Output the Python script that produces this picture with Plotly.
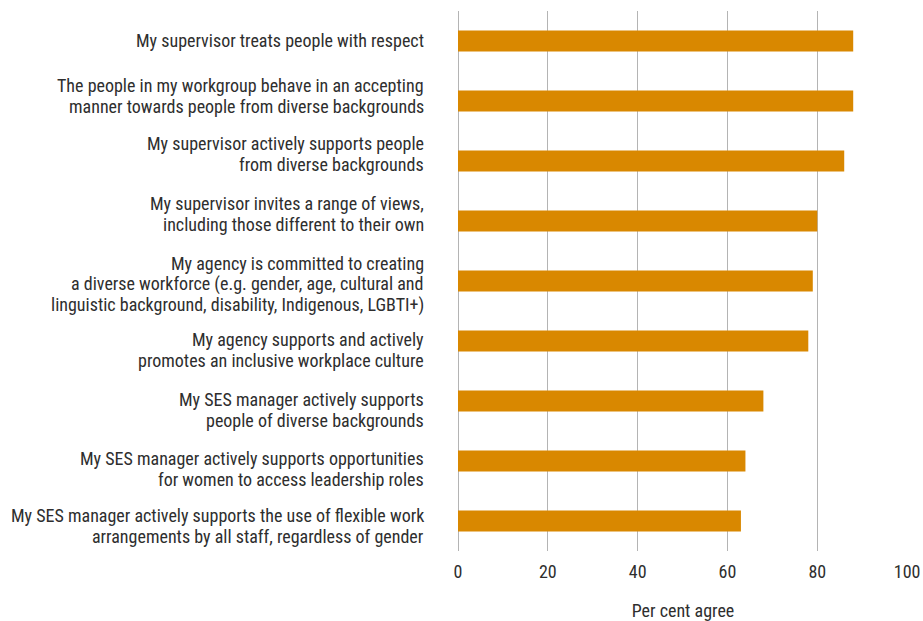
import plotly.graph_objects as go

categories = [
    "My supervisor treats people with respect",
    "The people in my workgroup behave in an accepting<br>manner towards people from diverse backgrounds",
    "My supervisor actively supports people<br>from diverse backgrounds",
    "My supervisor invites a range of views,<br>including those different to their own",
    "My agency is committed to creating<br>a diverse workforce (e.g. gender, age, cultural and<br>linguistic background, disability, Indigenous, LGBTI+)",
    "My agency supports and actively<br>promotes an inclusive workplace culture",
    "My SES manager actively supports<br>people of diverse backgrounds",
    "My SES manager actively supports opportunities<br>for women to access leadership roles",
    "My SES manager actively supports the use of flexible work<br>arrangements by all staff, regardless of gender",
]
values = [88, 88, 86, 80, 79, 78, 68, 64, 63]
x_ticks = [0, 20, 40, 60, 80, 100]

# layout only: vertical nudge (px, positive = down) of each label block, and line pitch
label_nudge = [-1, -5, -7, -7, 3, 9, 9, 8, 5]
LINE_PITCH = 20.7

FONT = "Roboto Condensed, DejaVu Sans Condensed, sans-serif"
TXT = "#2e2e2e"

fig = go.Figure(
    go.Bar(
        y=categories,
        x=values,
        orientation="h",
        marker=dict(color="#D98800", line=dict(width=0)),
        hoverinfo="x+y",
    )
)

# category labels drawn line by line so the line pitch matches the original
annotations = []
for cat, nudge in zip(categories, label_nudge):
    lines = cat.split("<br>")
    n = len(lines)
    for i, line in enumerate(lines):
        offset = (i - (n - 1) / 2) * LINE_PITCH + nudge
        annotations.append(
            dict(
                x=0, xref="paper", y=cat, yref="y",
                text=line, showarrow=False,
                xanchor="right", yanchor="middle",
                xshift=-32, yshift=-offset,
                font=dict(family=FONT, size=18, color=TXT),
            )
        )

fig.update_layout(
    width=923,
    height=621,
    margin=dict(l=458, r=15, t=11, b=70),
    plot_bgcolor="white",
    paper_bgcolor="white",
    bargap=0.65,
    showlegend=False,
    font=dict(family=FONT, size=18, color=TXT),
    annotations=annotations,
    xaxis=dict(
        range=[0, 100.2],
        tickvals=x_ticks,
        showgrid=True,
        gridcolor="#b4b4b4",
        gridwidth=1,
        zeroline=True,
        zerolinecolor="#b4b4b4",
        zerolinewidth=1,
        showline=False,
        ticks="",
        automargin=False,
        ticklabelstandoff=8,
        tickfont=dict(family=FONT, size=18, color=TXT),
        title=dict(text="Per cent agree", font=dict(family=FONT, size=18, color=TXT), standoff=23),
        fixedrange=True,
    ),
    yaxis=dict(
        autorange="reversed",
        showgrid=False,
        zeroline=False,
        showline=False,
        ticks="",
        showticklabels=False,
        automargin=False,
        fixedrange=True,
    ),
)

fig.write_html(
    "out.html",
    config={"displayModeBar": False},
    post_script="document.body.style.margin='0';document.body.style.overflow='hidden';",
)
